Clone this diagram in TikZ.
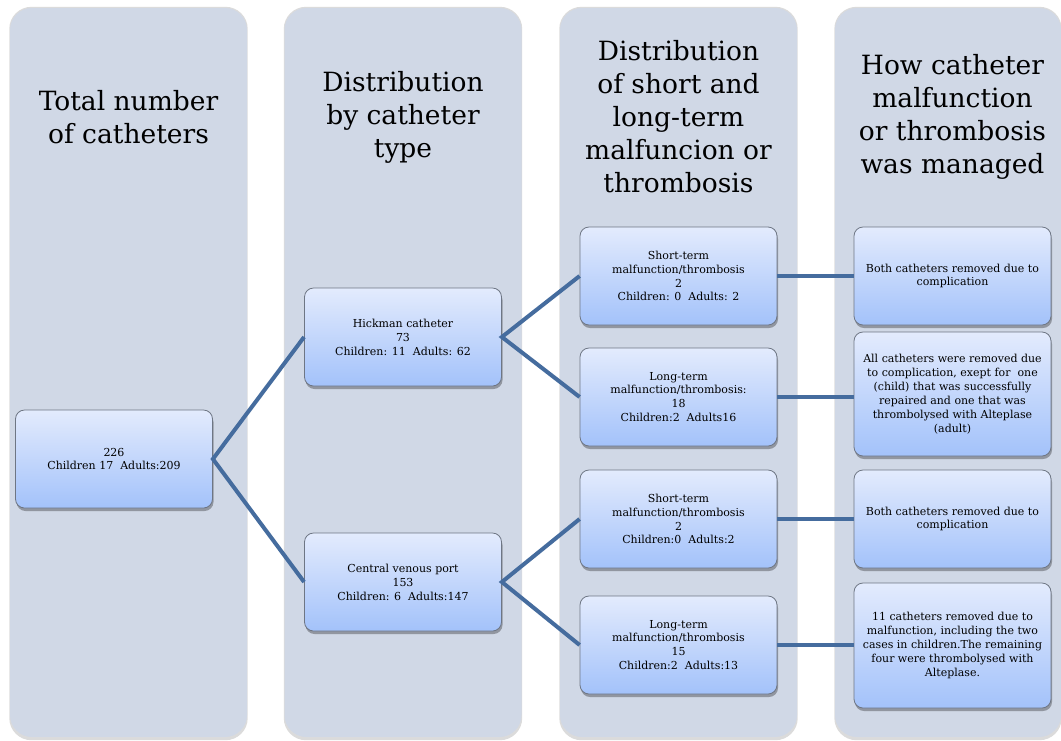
\documentclass[tikz,border=0pt]{standalone}
\usepackage{fontspec}
\setmainfont{DejaVu Serif}
\usetikzlibrary{shadows}
\definecolor{colbg}{RGB}{208,216,230}
\definecolor{boxtop}{RGB}{227,235,253}
\definecolor{boxbot}{RGB}{163,194,250}
\definecolor{boxline}{RGB}{110,118,132}
\definecolor{linkc}{RGB}{69,108,158}
\begin{document}
\begin{tikzpicture}[x=1pt,y=-1pt,
  colbox/.style={fill=colbg, rounded corners=22pt, minimum width=237pt, minimum height=729pt, inner sep=0pt,
    general shadow={shadow xshift=0pt, shadow yshift=-1pt, shadow scale=1.006, opacity=0.14, fill=black}},
  head/.style={align=center, font=\fontsize{26.5}{33}\selectfont, text=black},
  infobox/.style={draw=boxline, line width=0.8pt, rounded corners=9pt, top color=boxtop, bottom color=boxbot,
    minimum width=197pt, minimum height=98pt, align=center, inner sep=2pt,
    font=\fontsize{11}{13.9}\selectfont, text=black,
    drop shadow={shadow xshift=1pt, shadow yshift=-3pt, opacity=0.3, fill=black}},
  link/.style={draw=linkc, line width=4pt}
]
\useasboundingbox (0,0) rectangle (1061,740);

% column backgrounds
\node[colbox] (c1) at (128.5,372.5) {};
\node[colbox] (c2) at (403,372.5) {};
\node[colbox] (c3) at (678.5,372.5) {};
\node[colbox, minimum width=226pt] (c4) at (948,372.5) {};

% headers
\node[head] (h1) at (128.5,117) {Total number\\of catheters};
\node[head] (h2) at (403,117) {Distribution\\by catheter\\type};
\node[head] (h3) at (678.5,117) {Distribution\\of short and\\long-term\\malfuncion or\\thrombosis};
\node[head] (h4) at (952.5,117) {How catheter\\malfunction\\or thrombosis\\was managed};

% boxes
\node[infobox] (tot) at (114,459) {226\\Children 17~ Adults:209};
\node[infobox] (hick) at (403,337) {Hickman catheter\\73\\Children: 11~ Adults: 62};
\node[infobox] (cvp) at (403,582) {Central venous port\\153\\Children: 6~ Adults:147};

\node[infobox] (s1) at (678.5,276) {Short-term\\malfunction/thrombosis\\2\\Children: 0~ Adults: 2};
\node[infobox] (l1) at (678.5,397) {Long-term\\malfunction/thrombosis:\\18\\Children:2~ Adults16};
\node[infobox] (s2) at (678.5,519) {Short-term\\malfunction/thrombosis\\2\\Children:0~ Adults:2};
\node[infobox] (l2) at (678.5,645) {Long-term\\malfunction/thrombosis\\15\\Children:2~ Adults:13};

\node[infobox] (m1) at (952.5,276) {Both catheters removed due to\\complication};
\node[infobox, minimum height=124pt] (m2) at (952.5,394) {All catheters were removed due\\to complication, exept for~ one\\(child) that was successfully\\repaired and one that was\\thrombolysed with Alteplase\\(adult)};
\node[infobox] (m3) at (952.5,519) {Both catheters removed due to\\complication};
\node[infobox, minimum height=125pt] (m4) at (952.5,645.5) {11 catheters removed due to\\malfunction, including the two\\cases in children.The remaining\\four were thrombolysed with\\Alteplase.};

% connectors
\draw[link] (hick.west) -- (tot.east) -- (cvp.west);
\draw[link] (s1.west) -- (hick.east) -- (l1.west);
\draw[link] (s2.west) -- (cvp.east) -- (l2.west);
\draw[link] (s1.east) -- (s1.east -| m1.west);
\draw[link] (l1.east) -- (l1.east -| m2.west);
\draw[link] (s2.east) -- (s2.east -| m3.west);
\draw[link] (l2.east) -- (l2.east -| m4.west);
\end{tikzpicture}
\end{document}
